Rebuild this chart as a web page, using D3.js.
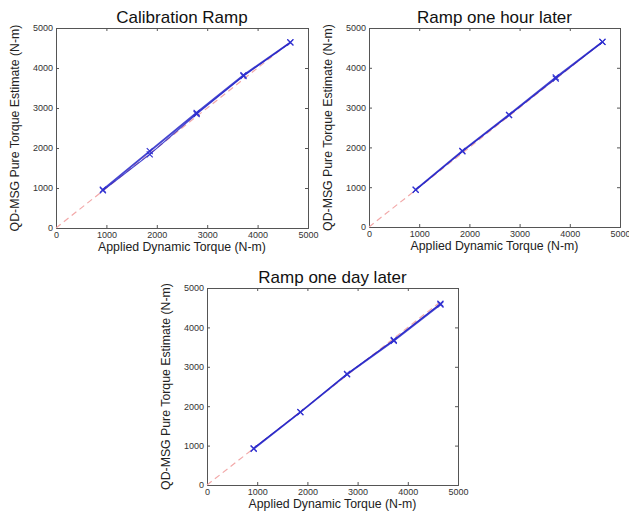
<!DOCTYPE html>
<html>
<head>
<meta charset="utf-8">
<script src="https://cdn.jsdelivr.net/npm/d3@7"></script>
<style>
body { margin: 0; background: #fff; }
text { font-family: "Liberation Sans", Arial, sans-serif; }
</style>
</head>
<body>
<svg width="629" height="511"></svg>
<script>
// applied torque steps (N-m)
var applied = [930, 1860, 2790, 3720, 4650];
var ticks = [0, 1000, 2000, 3000, 4000, 5000];
var ideal = [0, 4650];

// estimates, up and down ramps
var calibUp = [960, 1920, 2880, 3820, 4640];
var calibDown = [940, 1840, 2850, 3800, 4640];
var hourUp = [940, 1910, 2820, 3760, 4650];
var hourDown = [930, 1900, 2810, 3730, 4650];
var dayUp = [920, 1850, 2810, 3660, 4580];
var dayDown = [930, 1850, 2820, 3680, 4600];

var titles = ['Calibration Ramp', 'Ramp one hour later', 'Ramp one day later'];

var svg = d3.select('svg');

function drawPanel(x0, y0, w, h, title, up, down){
	var g = svg.append('g').attr('transform', 'translate(' + x0 + ',' + y0 + ')');
	var x = d3.scaleLinear().domain([0, 5000]).range([0, w]);
	var y = d3.scaleLinear().domain([0, 5000]).range([h, 0]);

	// matlab style ticks inside on all four sides
	g.append('g').attr('transform', 'translate(0,' + h + ')')
		.call(d3.axisBottom(x).tickValues(ticks).tickSize(-3).tickPadding(4).tickFormat(d3.format('d')));
	g.append('g').call(d3.axisTop(x).tickValues(ticks).tickSize(-3).tickFormat(''));
	g.append('g').call(d3.axisLeft(y).tickValues(ticks).tickSize(-3).tickPadding(3).tickFormat(d3.format('d')));
	g.append('g').attr('transform', 'translate(' + w + ',0)')
		.call(d3.axisRight(y).tickValues(ticks).tickSize(-3).tickFormat(''));
	g.selectAll('.domain').attr('stroke', '#555');
	g.selectAll('.tick line').attr('stroke', '#555');
	g.selectAll('.tick text').attr('font-size', 9).attr('fill', '#333');

	var line = d3.line().x(d => x(d[0])).y(d => y(d[1]));

	g.append('path').datum(ideal.map(v => [v, v]))
		.attr('d', line).attr('fill', 'none')
		.attr('stroke', '#f2a8a8').attr('stroke-width', 1.2).attr('stroke-dasharray', '6,4');

	[up, down].forEach(function(series, k){
		var pts = applied.map((a, i) => [a, series[i]]);
		g.append('path').datum(pts).attr('d', line).attr('fill', 'none')
			.attr('stroke', '#2626c8').attr('stroke-opacity', 0.85).attr('stroke-width', k === 0 ? 1.8 : 1.2);
		g.selectAll(null).data(pts).enter().append('path')
			.attr('transform', d => 'translate(' + x(d[0]) + ',' + y(d[1]) + ')')
			.attr('d', 'M-3,-3L3,3M-3,3L3,-3')
			.attr('stroke', '#3030d0').attr('stroke-width', 1.1).attr('fill', 'none');
	});

	g.append('text').attr('x', w / 2).attr('y', -5).attr('text-anchor', 'middle')
		.attr('font-size', 17).attr('fill', '#111').text(title);
	g.append('text').attr('x', w / 2).attr('y', h + 23).attr('text-anchor', 'middle')
		.attr('font-size', 12.3).attr('fill', '#222').text('Applied Dynamic Torque (N-m)');
	g.append('text').attr('transform', 'translate(-37,' + (h / 2) + ') rotate(-90)')
		.attr('text-anchor', 'middle').attr('font-size', 12.3).attr('fill', '#222')
		.text('QD-MSG Pure Torque Estimate (N-m)');
}

drawPanel(56, 28, 252, 200, titles[0], calibUp, calibDown);
drawPanel(369, 28, 251, 199, titles[1], hourUp, hourDown);
drawPanel(207, 288, 251, 197, titles[2], dayUp, dayDown);
</script>
</body>
</html>
